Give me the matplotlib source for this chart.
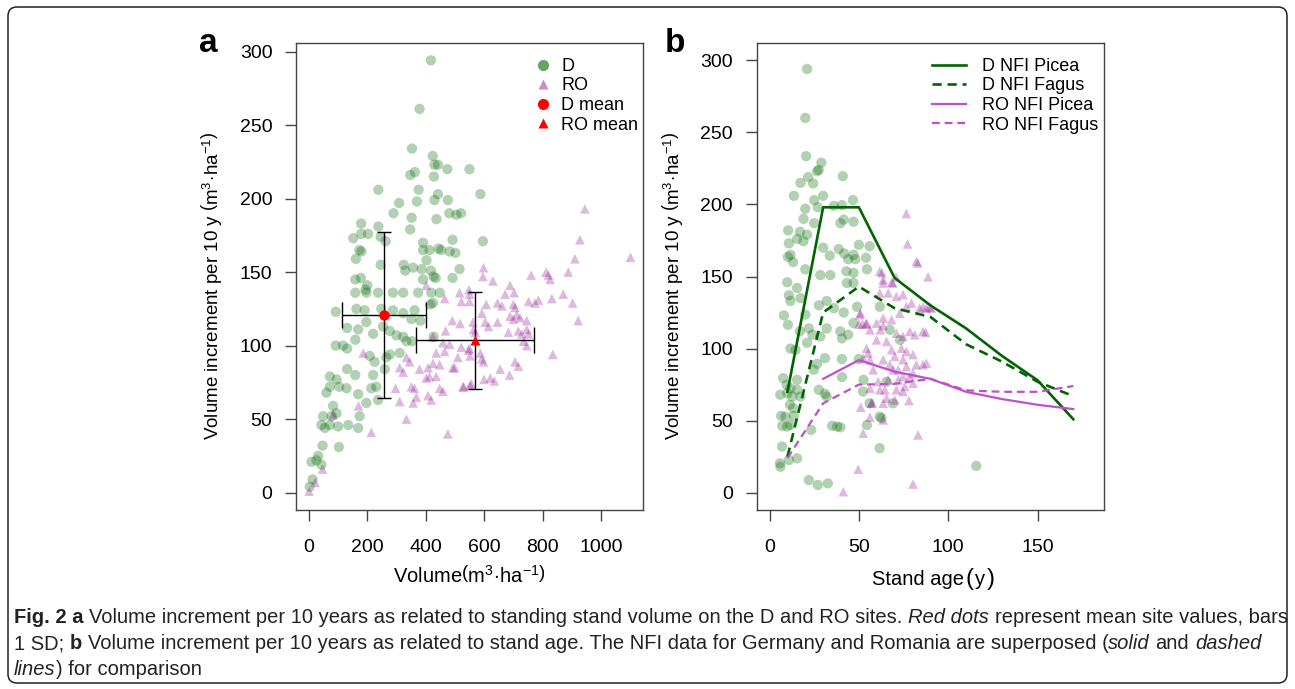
import numpy as np
import matplotlib
matplotlib.use("Agg")
import matplotlib.pyplot as plt
from matplotlib.lines import Line2D
from matplotlib.patches import FancyBboxPatch
from matplotlib.transforms import IdentityTransform

plt.rcParams['font.family'] = ['Liberation Sans', 'DejaVu Sans']
plt.rcParams['mathtext.fontset'] = 'custom'
plt.rcParams['mathtext.rm'] = 'Liberation Sans'
plt.rcParams['mathtext.it'] = 'Liberation Sans:italic'
plt.rcParams['mathtext.bf'] = 'Liberation Sans:bold'

# ---- panel a: volume vs increment (D sites)
d_vol = [418, 379, 353, 424, 430, 442, 474, 550, 363, 347, 428, 238, 376, 442, 430, 476, 309, 370,
         290, 481, 505, 521, 352, 437, 347, 179, 238, 179, 203, 152, 246, 263, 492, 391, 173, 180,
         161, 391, 413, 444, 453, 482, 502, 246, 403, 325, 357, 386, 330, 418, 427, 434, 516, 492,
         159, 178, 391, 200, 194, 159, 197, 237, 288, 323, 374, 419, 448, 587, 596,
         92, 163, 191, 248, 288, 323, 362, 351, 382, 425, 131, 169, 197, 220, 254, 277, 300, 323,
         334, 159, 92, 117, 131, 208, 225, 265, 277, 311, 131, 159, 220, 260, 72, 95, 104, 129,
         72, 60, 169, 197, 214, 231, 237, 83, 78, 49, 95, 174, 43, 55, 72, 100, 135, 169, 47, 103,
         32, 9, 26, 43, 13, 3, 416, 427, 353]
d_inc = [294, 261, 234, 229, 223, 223, 220, 220, 218, 216, 215, 206, 206, 203, 199, 199, 197, 198,
         190, 190, 189, 190, 187, 186, 179, 183, 181, 176, 176, 173, 174, 171, 172, 170, 165, 164,
         159, 165, 165, 166, 165, 164, 163, 155, 158, 155, 153, 152, 151, 151, 147, 146, 152, 146,
         145, 146, 145, 141, 138, 136, 136, 136, 136, 136, 136, 136, 136, 203, 171,
         123, 125, 124, 125, 124, 122, 124, 118, 117, 129, 112, 111, 116, 108, 113, 110, 107, 106,
         103, 104, 100, 100, 98, 93, 89, 92, 94, 95, 84, 80, 80, 84, 79, 77, 72, 71,
         72, 68, 67, 61, 71, 72, 63, 59, 52, 52, 54, 52, 46, 44, 46, 45, 46, 44, 32, 31,
         25, 21, 22, 19, 9, 4, 128, 106, 103]

# ---- panel a: volume vs increment (RO sites)
ro_vol = [402, 516, 548, 550, 522, 550, 465, 491, 518, 562, 425, 468, 459, 482, 465, 436, 522, 550,
          510, 499, 186, 334, 345, 311, 323, 379, 402, 413, 436, 408, 425, 448, 493, 297, 351, 362,
          448, 459, 528, 556, 311, 357, 368, 408, 419, 170, 334, 214, 476, 83, 47, 21, 1,
          945, 928, 1101, 911, 888, 598, 596, 630, 761, 812, 820, 826, 689, 703, 672, 871, 832, 903,
          786, 774, 752, 646, 661, 607, 700, 706, 592, 922, 689, 712, 700, 723, 746, 646, 604, 615,
          564, 570, 683, 717, 729, 746, 752, 735, 746, 835, 547, 552, 587, 598, 592, 706, 717, 655,
          687, 600, 621, 635, 530, 552]
ro_inc = [141, 136, 138, 135, 130, 130, 132, 117, 115, 116, 106, 110, 102, 101, 96, 95, 99, 98,
          92, 85, 95, 92, 89, 85, 82, 84, 78, 79, 79, 85, 88, 87, 85, 71, 72, 71,
          71, 69, 72, 74, 62, 61, 65, 66, 63, 59, 50, 41, 40, 53, 16, 7, 1,
          193, 172, 160, 159, 150, 153, 147, 144, 148, 150, 148, 145, 141, 136, 135, 135, 132, 129,
          131, 129, 130, 129, 127, 128, 128, 126, 122, 117, 120, 121, 118, 119, 117, 116, 116, 113,
          111, 109, 109, 110, 108, 111, 108, 103, 100, 94, 97, 93, 95, 89, 91, 89, 86, 84,
          80, 77, 78, 76, 72, 73]

# site means and SD
d_mean = (257, 120.6)
d_sd = (144, 56.5)
ro_mean = (568, 103.5)
ro_sd = (202, 33)

# ---- panel b: stand age vs increment
d_age = [21, 20, 20.5, 29, 27.5, 26.6, 21.6, 17.3, 24.4, 41, 13.6, 30, 25, 27, 20, 19, 36, 40.5,
         46.7, 41.5, 47, 39.6, 25, 10.4, 17, 15.4, 19, 21, 10.8, 11.7, 13.2, 10.3, 20, 30, 33.7,
         38.7, 41.8, 47, 44, 48, 54, 50, 56, 43, 47, 54.5, 28.4, 34, 9.9, 15.4, 43.3, 47,
         10.8, 11.7, 17.3, 8, 10.3, 20, 27.6, 32, 36, 41.5, 49, 17, 22, 24, 28.4, 32, 39.6, 40.5,
         44, 47, 11.7, 14.5, 21, 31, 26.6, 24.8, 40.5, 49.9, 7.6, 9.5, 15.4, 11.7, 6, 10, 12.7,
         15.4, 17.3, 27.6, 32, 31, 40.5, 52.6, 52.3, 11.4, 13.2, 6.5, 8.9, 13.6, 7.1, 9.9, 11.7,
         56, 23.3, 35, 37.8, 39.6, 54.5, 61.6, 7, 61.6, 5.8, 6.1, 10.8, 15.4, 22, 27, 32.6,
         67.3, 73, 69, 62.7, 115.7, 61.7, 65.5]
d_inc_b = [294, 260, 233.5, 229, 224, 223, 219, 215, 214.5, 219.6, 206, 206, 203, 198, 197, 190, 199, 199.5,
           203, 189.5, 188, 187, 187, 182, 181, 176, 174.5, 179, 173, 165, 160, 163.6, 155, 170, 164.5,
           169, 166, 165, 162, 162, 163, 172, 171, 153.6, 152.5, 155, 151, 151, 146, 142, 145.5, 145.5,
           137, 133, 135, 123, 116.5, 123.5, 130, 133, 128, 125, 129, 112, 114, 109.6, 108.4, 114, 112, 107,
           109.6, 117.7, 100, 99, 104, 93.4, 89.4, 85.3, 92.7, 92.7, 79.5, 74.8, 78.3, 72.5, 68, 69, 66.7,
           71.4, 66.7, 71.4, 66.7, 68.6, 80.2, 78.3, 70.2, 61, 58.7, 53.3, 52.8, 53.3, 46.4, 45.9, 47,
           62, 43.6, 46.4, 45.9, 45.4, 47, 52.8, 32, 30.9, 20.4, 18, 22.7, 23.9, 8.8, 5.4, 6.5,
           113, 106, 62, 51.7, 18.6, 129, 77]

ro_age = [76.6, 77.2, 82.2, 83, 88.7, 61.7, 63.6, 62.9, 68.4, 70.8, 63.6, 69, 61.7, 66.4,
          50.6, 54.3, 59.9, 63.6, 68.3, 72.9, 71, 74.7, 79.4, 76.6, 84, 87.8, 90.6, 85.9, 89.6,
          56.2, 62, 63.6, 59.9, 65.5, 71, 74.7, 78.5, 81.3, 85.9, 68.3, 73.8, 76.6, 70.1, 74.7,
          80.3, 82.2, 85.9, 87.4, 87.8, 54.3, 55.2, 52.4, 56.2, 63.6, 67.3, 69.2, 72, 76.6, 78.5,
          74.7, 80.3, 58, 60.8, 66.4, 72, 64.5, 71, 75.7, 80.3, 56.2, 61.7, 65.5, 70.1, 74.7, 51,
          57, 63.6, 78, 56.2, 63.6, 52.4, 83.1, 49.6, 80.3, 41.3, 50.8, 50, 52, 54, 57.3]
ro_inc_b = [193.7, 172.6, 160.5, 159.4, 149.7, 153.6, 147.8, 152.5, 146, 149.7, 145.5, 145.5, 138.6, 138.6,
            123.5, 117.7, 117.7, 121.2, 120, 124.6, 136.2, 137.4, 131.6, 129.2, 128.1, 128.1, 128.1, 129, 128.8,
            113, 113, 116, 106, 104.9, 110.7, 108.4, 111.9, 109.6, 111.9, 99.2, 100.3, 98, 94.6, 92.3,
            95.8, 88.8, 88.8, 111.2, 89.9, 100.3, 96.9, 93.4, 92.2, 92.2, 88.8, 85.3, 85.3, 87.6, 80.6,
            80.6, 83, 85.3, 77.1, 78.3, 78.3, 71.4, 71.4, 73.7, 76, 72.5, 71.4, 65.6, 64.4, 70.2, 59.3,
            62.1, 62.1, 63.9, 52.4, 50.5, 41.3, 40.1, 16.3, 6, 0.7, 124.7, 117, 117, 117, 62.5]

# ---- NFI curves
nfi_age = [10, 30, 50, 70, 90, 110, 130, 150, 170]
d_picea = [70, 198, 198, 149, 130, 114, 95, 78, 51]
d_fagus = [25, 125, 143, 128, 122, 103, 91, 77, 67]
ro_age_picea = [30, 50, 70, 90, 110, 130, 150, 170]
ro_picea = [79, 92, 84, 79, 70, 65, 61, 58]
ro_fagus = [24, 62, 75, 75.5, 79, 71, 70, 70, 74]

green = '#006400'
purple = '#8B008B'
orchid = '#BF50C8'
box_col = '#444444'
tick_fs = 14
ylab_fs = 13.5
xlab_fs = 14.5
leg_fs = 13

W, H = 1295, 689
fig = plt.figure(figsize=(W / 100, H / 100), dpi=100)
renderer = fig.canvas.get_renderer()

frame = FancyBboxPatch((8, 6), 1279, 676, boxstyle='round,pad=0,rounding_size=9',
                       transform=IdentityTransform(), fill=False, ec='#222222', lw=1.1)
fig.patches.append(frame)

ax1 = fig.add_axes([296 / W, 1 - 510 / H, 347 / W, 467 / H])
ax2 = fig.add_axes([756.7 / W, 1 - 510 / H, 347.3 / W, 467 / H])

ylab = r'Volume increment per 10 y $\left(\mathrm{m^{3}\!\cdot\!ha^{-1}}\right)$'

for ax in (ax1, ax2):
    for sp in ax.spines.values():
        sp.set_color(box_col)
        sp.set_linewidth(1.0)
    ax.tick_params(direction='out', length=8, width=1.0, color=box_col, labelsize=tick_fs)
    ax.tick_params(axis='y', pad=9)
    ax.tick_params(axis='x', pad=13)
    ax.set_yticks(range(0, 301, 50))
    ax.set_ylabel(ylab, fontsize=ylab_fs)
    ax.yaxis.set_label_coords(-0.207, 0.48)

# panel a
ax1.scatter(d_vol, d_inc, s=55, color=green, alpha=0.3, edgecolors='none', zorder=2)
ax1.scatter(ro_vol, ro_inc, s=48, marker='^', color=purple, alpha=0.28, edgecolors='none', zorder=3)
for m, sd in ((d_mean, d_sd), (ro_mean, ro_sd)):
    ax1.errorbar(m[0], m[1], yerr=sd[1], fmt='none', ecolor='black', elinewidth=1.0,
                 capsize=4.7, capthick=1.0, zorder=4)
    ax1.errorbar(m[0], m[1], xerr=sd[0], fmt='none', ecolor='black', elinewidth=1.0,
                 capsize=9.2, capthick=1.0, zorder=4)
ax1.plot(d_mean[0], d_mean[1], 'o', color='red', ms=7.5, mec='none', zorder=5)
ax1.plot(ro_mean[0], ro_mean[1], '^', color='red', ms=7, mec='none', zorder=5)
ax1.set_xlim(-44, 1144)
ax1.set_ylim(-11.8, 305.8)
ax1.set_xticks(range(0, 1001, 200))
ax1.set_xlabel(r'Volume$\left(\mathrm{m^{3}\!\cdot\!ha^{-1}}\right)$', fontsize=xlab_fs)
ax1.xaxis.set_label_coords(0.5, -0.118)

h1 = [Line2D([], [], ls='none', marker='o', color=green, alpha=0.6, ms=8, mec='none'),
      Line2D([], [], ls='none', marker='^', color=purple, alpha=0.45, ms=7, mec='none'),
      Line2D([], [], ls='none', marker='o', color='red', ms=8, mec='none'),
      Line2D([], [], ls='none', marker='^', color='red', ms=7, mec='none')]
ax1.legend(h1, ['D', 'RO', 'D mean', 'RO mean'], loc='upper left', bbox_to_anchor=(0.686, 0.968),
           frameon=False, fontsize=leg_fs, handlelength=1.0, handletextpad=0.5,
           labelspacing=0.14, borderpad=0, borderaxespad=0)

# panel b
ax2.scatter(d_age, d_inc_b, s=55, color=green, alpha=0.3, edgecolors='none', zorder=2)
ax2.scatter(ro_age, ro_inc_b, s=48, marker='^', color=purple, alpha=0.28, edgecolors='none', zorder=3)
ax2.plot(nfi_age, d_picea, color=green, lw=1.9, zorder=4, label='D NFI Picea')
ax2.plot(nfi_age, d_fagus, color=green, lw=1.9, ls=(0, (3.5, 2.2)), zorder=4, label='D NFI Fagus')
ax2.plot(ro_age_picea, ro_picea, color=orchid, lw=1.6, zorder=4, label='RO NFI Picea')
ax2.plot(nfi_age, ro_fagus, color=orchid, lw=1.6, ls=(0, (3.5, 2.2)), zorder=4, label='RO NFI Fagus')
ax2.set_xlim(-7.2, 187.2)
ax2.set_ylim(-12, 312)
ax2.set_xticks(range(0, 151, 50))
ax2.legend(loc='upper left', bbox_to_anchor=(0.504, 0.968), frameon=False, fontsize=leg_fs,
           handlelength=1.9, handletextpad=0.9, labelspacing=0.14, borderpad=0, borderaxespad=0)

# "Stand age( y )" with tall brackets, built from pieces
pieces = [('Stand age', xlab_fs), ('(', 17), ('y', xlab_fs), (')', 17)]
texts, widths = [], []
for s, fs in pieces:
    t = fig.text(0, 0, s, fontsize=fs, va='baseline')
    texts.append(t)
    widths.append(t.get_window_extent(renderer).width)
gap = 1.5
xc = 933
x = xc - (sum(widths) + gap * (len(widths) - 1)) / 2
for t, w in zip(texts, widths):
    t.set_position((x / W, 1 - 585 / H))
    x += w + gap

# panel letters
fig.text(199 / W, 1 - 52 / H, 'a', fontsize=24, weight='bold', va='baseline')
fig.text(665 / W, 1 - 52 / H, 'b', fontsize=24, weight='bold', va='baseline')

# caption, drawn run by run so bold / italic parts sit inline
cap_family = ['Liberation Sans Narrow', 'Liberation Sans', 'DejaVu Sans']
cap_lines = [
    [('Fig. 2 a', 'bold', 'normal'),
     (' Volume increment per 10 years as related to standing stand volume on the D and RO sites. ', 'normal', 'normal'),
     ('Red dots', 'normal', 'italic'),
     (' represent mean site values, bars', 'normal', 'normal')],
    [('1 SD; ', 'normal', 'normal'),
     ('b', 'bold', 'normal'),
     (' Volume increment per 10 years as related to stand age. The NFI data for Germany and Romania are superposed (', 'normal', 'normal'),
     ('solid', 'normal', 'italic'),
     (' and ', 'normal', 'normal'),
     ('dashed', 'normal', 'italic')],
    [('lines', 'normal', 'italic'),
     (') for comparison', 'normal', 'normal')],
]
cap_base = [623, 649, 675]


def run_width(s, size, weight, style):
    t = fig.text(0, 0, s, fontsize=size, weight=weight, style=style, family=cap_family)
    w = t.get_window_extent(renderer).width
    t.remove()
    return w


def space_width(size, weight, style):
    return run_width('x x', size, weight, style) - run_width('xx', size, weight, style)


def line_width(runs, size):
    total = 0
    for s, wgt, sty in runs:
        core = s.strip()
        nsp = len(s) - len(s.lstrip()) + len(s) - len(s.rstrip())
        total += run_width(core, size, wgt, sty) + nsp * space_width(size, wgt, sty)
    return total


base = 10.0
cap_size = base * 1270 / line_width(cap_lines[0], base)

for runs, yb in zip(cap_lines, cap_base):
    x = 14.0
    for s, wgt, sty in runs:
        lead = len(s) - len(s.lstrip())
        trail = len(s) - len(s.rstrip())
        sp = space_width(cap_size, wgt, sty)
        x += lead * sp
        core = s.strip()
        t = fig.text(x / W, 1 - yb / H, core, fontsize=cap_size, weight=wgt, style=sty,
                     family=cap_family, va='baseline', color='#222222')
        x = t.get_window_extent(renderer).x1 + trail * sp

fig.savefig('out.png', dpi=100)
